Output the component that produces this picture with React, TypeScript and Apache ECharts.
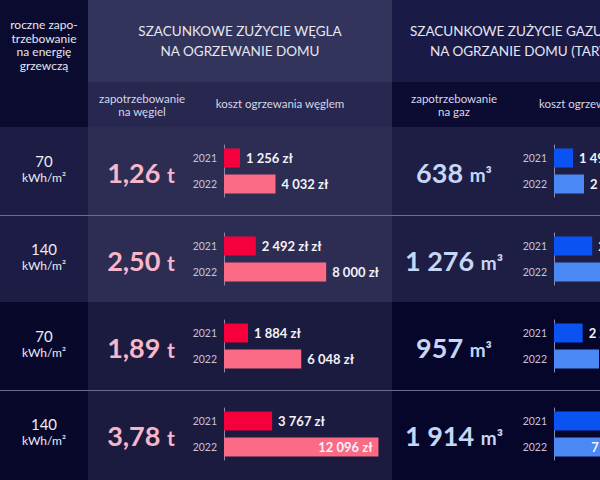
import { useEffect, useRef } from "react";
import * as echarts from "echarts";

const years = ["2021", "2022"];
const energyNeed = ["70", "140", "70", "140"];
const coalTonnes = ["1,26", "2,50", "1,89", "3,78"];
const coalCost2021 = [1256, 2492, 1884, 3767];
const coalCost2022 = [4032, 8000, 6048, 12096];
const coalLabels2021 = ["1 256 zł", "2 492 zł zł", "1 884 zł", "3 767 zł"];
const gasVolume = ["638", "1 276", "957", "1 914"];
const gasCost2021 = [1496, 2992, 2244, 4488];
const gasCost2022 = [2350, 4700, 3525, 7050];

const FONT = "Lato";
const FULL_W = 760; // the infographic goes on past the 600px frame
const rowTops = [127, 215, 302, 390];
const rowH = 88;
const costMax = 13000;

const fmt = (v: number) => {
  const s = String(v);
  return s.length > 3 ? s.slice(0, s.length - 3) + " " + s.slice(-3) : s;
};

function bgRect(x: number, y: number, w: number, h: number, fill: string) {
  return { type: "rect", z: -10, shape: { x, y, width: w, height: h }, style: { fill } };
}

function txt(text: string, x: number, y: number, size: number, fill: string, extra: any = {}) {
  return {
    type: "text",
    z: 10,
    x,
    y,
    style: {
      text,
      fill,
      fontSize: size,
      fontFamily: FONT,
      textAlign: "center",
      textVerticalAlign: "middle",
      ...extra,
    },
  };
}

export default function App() {
  const ref = useRef<HTMLDivElement>(null);

  useEffect(() => {
    if (!ref.current) return;
    const chart = echarts.init(ref.current, null, { renderer: "svg" });

    const grids: any[] = [];
    const xAxes: any[] = [];
    const yAxes: any[] = [];
    const series: any[] = [];

    const addBars = (
      left: number,
      rowIdx: number,
      v21: number,
      v22: number,
      c21: string,
      c22: string,
      l21: string,
      l22: string,
      insideAbove: number
    ) => {
      const center = rowTops[rowIdx] + rowH / 2;
      const i = grids.length;
      grids.push({ left, top: center - 26, width: 166, height: 52 });
      xAxes.push({ gridIndex: i, type: "value", min: 0, max: costMax, show: false });
      yAxes.push({
        gridIndex: i,
        type: "category",
        data: years,
        inverse: true,
        axisTick: { show: false },
        axisLine: { lineStyle: { color: "#8c8caa", width: 1 } },
        axisLabel: { color: "#c4c4d6", fontSize: 10.5, fontFamily: FONT, margin: 7 },
      });
      const item = (v: number, color: string, label: string) => ({
        value: v,
        itemStyle: { color },
        label: {
          formatter: label,
          position: v > insideAbove ? "insideRight" : "right",
          distance: 6,
        },
      });
      series.push({
        type: "bar",
        xAxisIndex: i,
        yAxisIndex: i,
        barWidth: 19,
        data: [item(v21, c21, l21), item(v22, c22, l22)],
        label: {
          show: true,
          color: "#f2f2f8",
          fontSize: 13,
          fontWeight: "bold",
          fontFamily: FONT,
        },
      });
    };

    for (let r = 0; r < 4; r++) {
      addBars(224, r, coalCost2021[r], coalCost2022[r], "#f5003c", "#fb6b85",
        coalLabels2021[r], fmt(coalCost2022[r]) + " zł", 10000);
      addBars(554, r, gasCost2021[r], gasCost2022[r], "#0a52f2", "#4a88f4",
        fmt(gasCost2021[r]) + " zł", fmt(gasCost2022[r]) + " zł", 6000);
    }

    const gasW = FULL_W - 392;
    const graphics: any[] = [
      // backgrounds
      bgRect(0, 0, 88, 127, "#0b0b30"),
      bgRect(0, 127, 88, 175, "#1c1c44"),
      bgRect(0, 302, 88, 178, "#08082b"),
      bgRect(88, 0, 304, 82, "#33345b"),
      bgRect(88, 82, 304, 45, "#27274f"),
      bgRect(88, 127, 304, 175, "#2d2d53"),
      bgRect(88, 302, 304, 178, "#1b1b3f"),
      bgRect(392, 0, gasW, 82, "#1a1a47"),
      bgRect(392, 82, gasW, 45, "#0c0c33"),
      bgRect(392, 127, gasW, 175, "#1e1e45"),
      bgRect(392, 302, gasW, 178, "#06062a"),
      {
        type: "line", z: -5,
        shape: { x1: 0, y1: 215.5, x2: FULL_W, y2: 215.5 },
        style: { stroke: "#6c6c90", lineWidth: 1 },
      },
      {
        type: "line", z: -5,
        shape: { x1: 0, y1: 390.5, x2: FULL_W, y2: 390.5 },
        style: { stroke: "#6c6c90", lineWidth: 1 },
      },
      // header
      txt("roczne zapo-\ntrzebowanie\nna energię\ngrzewczą", 44, 45, 12, "#e6e6f0", { lineHeight: 13.5 }),
      txt("SZACUNKOWE ZUŻYCIE WĘGLA\nNA OGRZEWANIE DOMU", 240, 41, 13.5, "#e6e6f0", { lineHeight: 20 }),
      txt("SZACUNKOWE ZUŻYCIE GAZU", 410, 31, 13.5, "#e6e6f0", { textAlign: "left" }),
      txt("NA OGRZANIE DOMU (TARYFA)", 430, 51, 13.5, "#e6e6f0", { textAlign: "left" }),
      txt("zapotrzebowanie\nna węgiel", 142, 104.5, 11.5, "#d6d6e6", { lineHeight: 13 }),
      txt("koszt ogrzewania węglem", 280, 103, 11.5, "#d6d6e6"),
      txt("zapotrzebowanie\nna gaz", 454, 104.5, 11.5, "#d6d6e6", { lineHeight: 13 }),
      txt("koszt ogrzewania gazem", 539, 103, 11.5, "#d6d6e6", { textAlign: "left" }),
    ];

    for (let r = 0; r < 4; r++) {
      const c = rowTops[r] + rowH / 2;
      graphics.push(
        txt(`{v|${energyNeed[r]}}\n{u|kWh/m²}`, 44, c - 2.5, 15, "#ececf4", {
          rich: {
            v: { fontSize: 15, fontFamily: FONT, fill: "#ececf4", lineHeight: 17 },
            u: { fontSize: 12, fontFamily: FONT, fill: "#ececf4", lineHeight: 15 },
          },
        })
      );
      graphics.push(
        txt(`{n|${coalTonnes[r]}} {u|t}`, 141, c + 1, 26, "#f7b6c9", {
          rich: {
            n: { fontSize: 27, fontWeight: "bold", fontFamily: FONT, fill: "#f7b6c9", lineHeight: 32 },
            u: { fontSize: 21, fontWeight: "bold", fontFamily: FONT, fill: "#f7b6c9", lineHeight: 32, padding: [4, 0, 0, 0] },
          },
        })
      );
      graphics.push(
        txt(`{n|${gasVolume[r]}} {u|m³}`, 454, c + 1, 26, "#c6d6f6", {
          rich: {
            n: { fontSize: 27, fontWeight: "bold", fontFamily: FONT, fill: "#c6d6f6", lineHeight: 32 },
            u: { fontSize: 19, fontWeight: "bold", fontFamily: FONT, fill: "#c6d6f6", lineHeight: 32, padding: [4, 0, 0, 0] },
          },
        })
      );
    }

    chart.setOption({
      animation: false,
      backgroundColor: "#0b0b30",
      grid: grids,
      xAxis: xAxes,
      yAxis: yAxes,
      series,
      graphic: { elements: graphics },
    });

    return () => chart.dispose();
  }, []);

  return (
    <div
      style={{
        position: "fixed",
        left: 0,
        top: 0,
        width: 600,
        height: 480,
        overflow: "hidden",
      }}
    >
      <div ref={ref} style={{ width: FULL_W, height: 480 }} />
    </div>
  );
}
